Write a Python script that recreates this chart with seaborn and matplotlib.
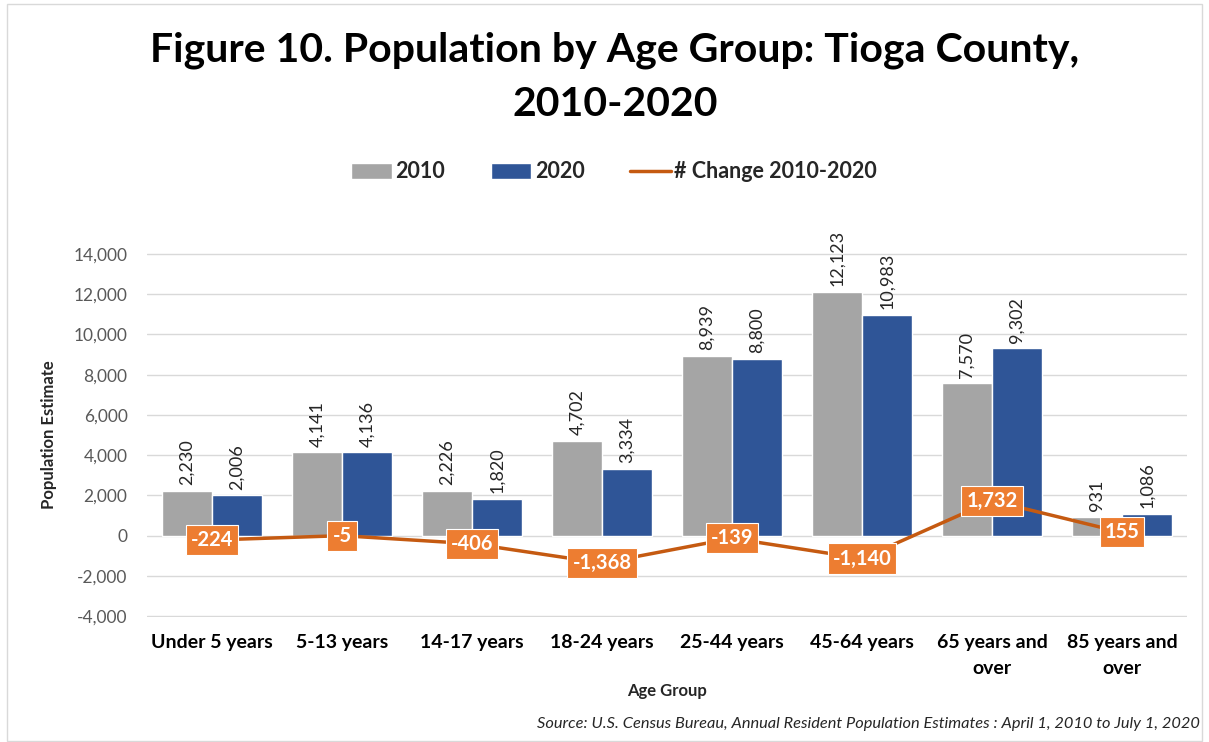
import matplotlib
matplotlib.use("Agg")
import matplotlib.pyplot as plt
import seaborn as sns
import pandas as pd
import numpy as np
from matplotlib.patches import Rectangle, Patch
from matplotlib.lines import Line2D

categories = ["Under 5 years", "5-13 years", "14-17 years", "18-24 years",
              "25-44 years", "45-64 years", "65 years and\nover", "85 years and\nover"]
pop_2010 = [2230, 4141, 2226, 4702, 8939, 12123, 7570, 931]
pop_2020 = [2006, 4136, 1820, 3334, 8800, 10983, 9302, 1086]
change = [-224, -5, -406, -1368, -139, -1140, 1732, 155]
yticks = [-4000, -2000, 0, 2000, 4000, 6000, 8000, 10000, 12000, 14000]

sns.set_theme(style="white")
FONT = ["Lato", "DejaVu Sans"]
plt.rcParams["font.family"] = FONT

df = pd.DataFrame({
    "Age Group": categories * 2,
    "Year": ["2010"] * len(categories) + ["2020"] * len(categories),
    "Population": pop_2010 + pop_2020,
})

fig = plt.figure(figsize=(12.09, 7.42), dpi=100)
ax = fig.add_axes([147 / 1209, 1 - 617 / 742, (1187 - 147) / 1209, (617 - 253) / 742])

sns.barplot(data=df, x="Age Group", y="Population", hue="Year",
            palette={"2010": "#A5A5A5", "2020": "#2F5597"},
            width=0.77, saturation=1, ax=ax, legend=False, zorder=2)

ax.set_ylim(-4050, 14050)
ax.set_xlim(-0.5, len(categories) - 0.5)
ax.set_yticks(yticks)
ax.set_yticklabels([f"{v:,}" for v in yticks], color="#595959", fontsize=12.5)
ax.tick_params(axis="y", length=0, pad=14)
ax.tick_params(axis="x", length=0, pad=12)
for lab in ax.get_xticklabels():
    lab.set_fontweight("bold")
    lab.set_fontsize(14)
    lab.set_color("black")
    lab.set_linespacing(1.7)
for yv in yticks:
    ax.axhline(yv, color="#D9D9D9", linewidth=1, zorder=0)
for s in ax.spines.values():
    s.set_visible(False)
ax.set_xlabel("Age Group", fontsize=12, fontweight="bold", labelpad=4)
ax.set_ylabel("Population Estimate", fontsize=12, fontweight="bold", labelpad=12)

# bar labels
for cont in ax.containers:
    ax.bar_label(cont, labels=[f"{int(v):,}" for v in cont.datavalues],
                 rotation=90, padding=4, fontsize=13, color="#262626")

# change line
xs = np.arange(len(categories))
ax.plot(xs, change, color="#C55A11", linewidth=2.5, zorder=3)
for x, v in zip(xs, change):
    ax.text(x, v, f"{v:,}", ha="center", va="center", color="white",
            fontsize=14.5, fontweight="bold", zorder=4,
            bbox=dict(boxstyle="square,pad=0.25", fc="#ED7D31", ec="white", lw=0.8))

# legend
handles = [Patch(fc="#A5A5A5"), Patch(fc="#2F5597"),
           Line2D([0], [0], color="#C55A11", lw=2.5)]
fig.legend(handles, ["2010", "2020", "# Change 2010-2020"], loc="center",
           bbox_to_anchor=(614 / 1209, 1 - 172 / 742), ncol=3, frameon=False,
           prop={"weight": "bold", "size": 15.5, "family": FONT},
           handlelength=1.9, handleheight=0.8, handletextpad=0.15, columnspacing=2.1)

fig.text(615 / 1209, 1 - 77 / 742,
         "Figure 10. Population by Age Group: Tioga County,\n2010-2020",
         ha="center", va="center", fontsize=29.5, fontweight="bold",
         linespacing=1.55, color="black")
fig.text(1200 / 1209, 1 - 724 / 742,
         "Source: U.S. Census Bureau, Annual Resident Population Estimates : April 1, 2010 to July 1, 2020",
         ha="right", va="center", fontsize=11.8, style="italic", color="#262626")

fig.patches.append(Rectangle((7 / 1209, 0.002), 1 - 14 / 1209, 0.993,
                             transform=fig.transFigure, fill=False,
                             ec="#D9D9D9", lw=1))

fig.savefig("out.png", dpi=100)
